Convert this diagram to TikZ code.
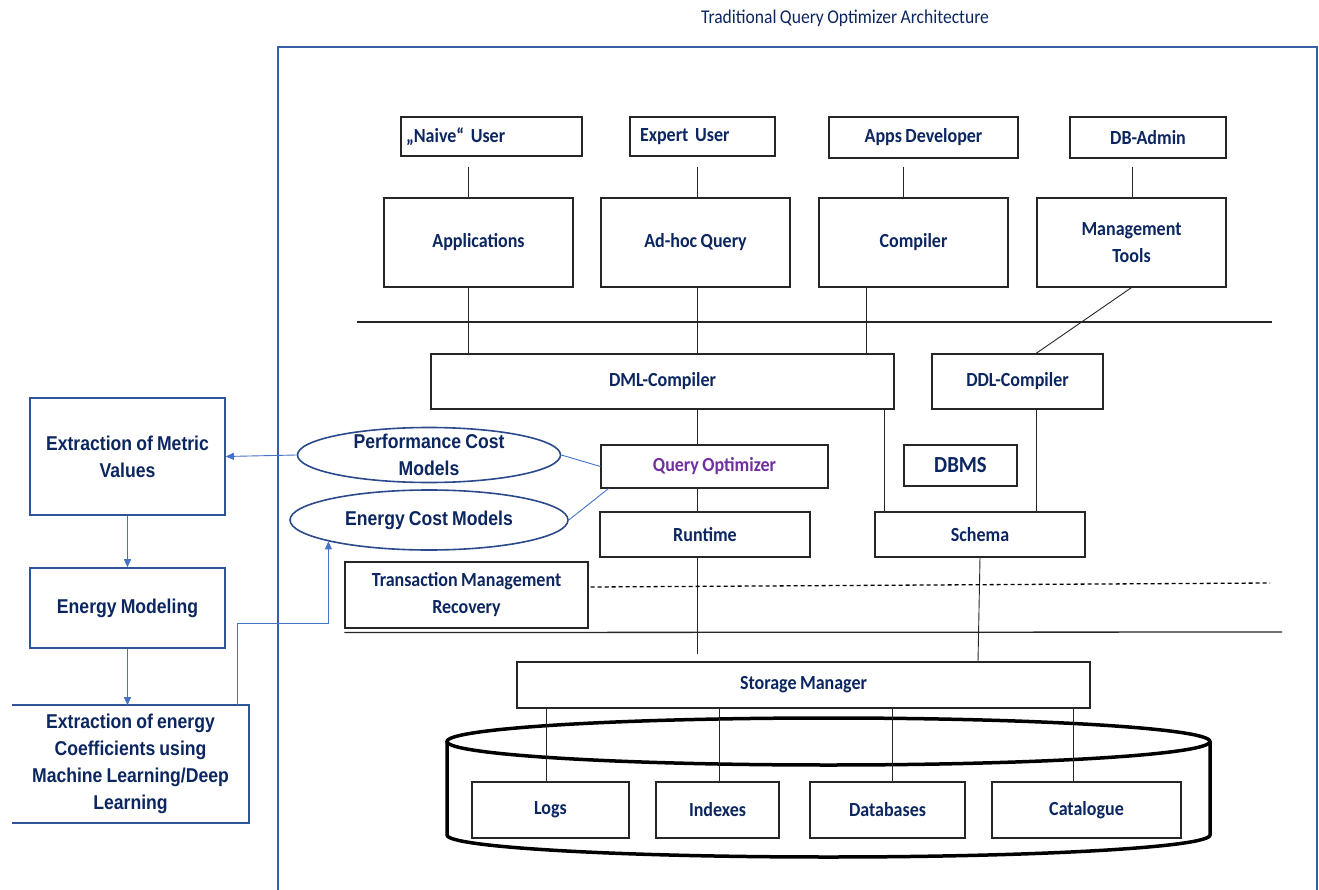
\documentclass[tikz,border=0pt]{standalone}
\usepackage{fontspec}
\setmainfont{Carlito}[FakeStretch=0.9, WordSpace=0.85]
\newfontfamily\arialn{Liberation Sans}[FakeStretch=0.88, WordSpace=0.85]
\usetikzlibrary{shapes.geometric,arrows.meta,calc}
\definecolor{navy}{HTML}{0C2660}
\definecolor{framec}{HTML}{3A5DA8}
\definecolor{lboxc}{HTML}{2F5597}
\definecolor{ellc}{HTML}{2B4A8C}
\definecolor{arrc}{HTML}{4472C4}
\definecolor{qoc}{HTML}{7030A0}
\begin{document}
\begin{tikzpicture}[x=1pt,y=-1pt,
  box/.style={draw=black!85, line width=1.1, fill=white, inner sep=0, align=center, text=navy, font=\bfseries\fontsize{20}{27}\selectfont},
  lbox/.style={draw=lboxc, line width=1.6, fill=white, inner sep=0, align=center, text=navy, font=\arialn\bfseries\fontsize{20}{27}\selectfont},
  ell/.style={ellipse, draw=ellc, line width=1.6, fill=white, inner sep=0},
  ltext/.style={text=navy, align=center, inner sep=0, font=\arialn\bfseries\fontsize{20}{27}\selectfont},
  conn/.style={draw=black!85, line width=0.9},
  blu/.style={draw=arrc, line width=0.9},
  arr/.style={draw=arrc, line width=0.9, -{Triangle[length=8,width=7]}},
  framel/.style={draw=framec, line width=1.6}
]
\useasboundingbox (0,0) rectangle (1319,890);

% title and frame
\node[text=navy, font=\fontsize{19.5}{22}\selectfont] (title) at (845,18) {Traditional Query Optimizer Architecture};
\draw[framel] (278,890) -- (278,47) -- (1317,47) -- (1317,890);

% cylinder
\draw[line width=3.5] (447,741.5) -- (447,835) arc[start angle=180, end angle=0, x radius=381.5, y radius=22] -- (1210,741.5);
\draw[line width=3.5] (828.5,741.5) ellipse[x radius=381.5, y radius=23.5];

% helper coordinates
\coordinate (vA) at (468,0);
\coordinate (vB) at (697,0);
\coordinate (vC) at (903,0);
\coordinate (vD) at (1132,0);
\coordinate (vE) at (866,0);
\coordinate (vF) at (884,0);
\coordinate (vG) at (1036,0);
\coordinate (s1) at (546,0);
\coordinate (s2) at (719,0);
\coordinate (s3) at (892,0);
\coordinate (s4) at (1073,0);
\coordinate (hl1a) at (357,322);
\coordinate (hl1b) at (1272,322);
\coordinate (hl2b) at (1282,632);
\coordinate (dashend) at (1270,583);

% users
\node[box, align=left, text width=171, inner xsep=5, minimum height=39] (naive) at (491.5,136.5) {„Naive“ User};
\node[box, align=left, text width=125, inner xsep=10, minimum height=39] (expert) at (702.5,136.5) {Expert User};
\node[box, minimum width=189, minimum height=41] (appsdev) at (923.5,137.5) {Apps Developer};
\node[box, minimum width=156, minimum height=41] (dbadmin) at (1148,137.5) {DB-Admin};

% tools
\node[box, minimum width=189, minimum height=89] (applications) at (478.5,242.5) {Applications};
\node[box, minimum width=189, minimum height=89] (adhoc) at (695.5,242.5) {Ad-hoc Query};
\node[box, minimum width=189, minimum height=89] (compiler) at (913.5,242.5) {Compiler};
\node[box, minimum width=189, minimum height=89] (mgmt) at (1131.5,242.5) {Management\\Tools};

% compilers
\node[box, minimum width=463, minimum height=55] (dml) at (662.5,381.5) {DML-Compiler};
\node[box, minimum width=171, minimum height=55] (ddl) at (1017.5,381.5) {DDL-Compiler};

\node[box, text=qoc, minimum width=227, minimum height=43] (qo) at (714.5,466.5) {Query Optimizer};
\node[box, font=\bfseries\fontsize{23}{27}\selectfont, minimum width=113, minimum height=41] (dbms) at (960.5,465.5) {DBMS};
\node[box, minimum width=210, minimum height=45] (runtime) at (705,534.5) {Runtime};
\node[box, minimum width=210, minimum height=45] (schema) at (980,534.5) {Schema};
\node[box, minimum width=243, minimum height=66] (tmr) at (466.5,595) {Transaction Management\\Recovery};

\node[box, minimum width=573, minimum height=46] (storage) at (803.5,685) {Storage Manager};
\node[box, minimum width=157, minimum height=56] (logs) at (550.5,810) {Logs};
\node[box, minimum width=123, minimum height=56] (indexes) at (717.5,810) {Indexes};
\node[box, minimum width=155, minimum height=56] (databases) at (887.5,810) {Databases};
\node[box, minimum width=189, minimum height=56] (catalogue) at (1086.5,810) {Catalogue};

% ellipses
\node[ell, minimum width=263, minimum height=55] (perf) at (429,455) {};
\node[ltext] (perftext) at (perf.center) {Performance Cost\\Models};
\node[ell, minimum width=278, minimum height=60] (energy) at (429,520) {};
\node[ltext] (energytext) at (energy.center) {Energy Cost Models};

% left boxes
\node[lbox, minimum width=195, minimum height=117] (metric) at (127.5,456.5) {Extraction of Metric\\Values};
\node[lbox, minimum width=195, minimum height=80] (modeling) at (127.5,608) {Energy Modeling};
\node[lbox, draw=none, minimum width=235, minimum height=116] (coeff) at (130.5,764) {Extraction of energy\\Coefficients using\\Machine Learning/Deep\\Learning};
\draw[draw=lboxc, line width=1.6] (coeff.north west) -- (coeff.north east) -- (coeff.south east) -- (coeff.south west);

% connectors users -> tools
\draw[conn] ($(naive.south -| vA)+(0,10)$) -- (applications.north -| vA);
\draw[conn] ($(expert.south -| vB)+(0,10)$) -- (adhoc.north -| vB);
\draw[conn] ($(appsdev.south -| vC)+(0,8)$) -- (compiler.north -| vC);
\draw[conn] ($(dbadmin.south -| vD)+(0,8)$) -- (mgmt.north -| vD);

% tools -> compilers
\draw[conn, line width=1.2] (hl1a) -- (hl1b);
\draw[conn] (applications.south -| vA) -- (dml.north -| vA);
\draw[conn] (adhoc.south -| vB) -- (dml.north -| vB);
\draw[conn] (compiler.south -| vE) -- (dml.north -| vE);
\draw[conn] (mgmt.south) -- (ddl.north -| vG);

% compilers -> below
\draw[conn] (dml.south -| vB) -- (qo.north -| vB);
\draw[conn] (dml.south -| vF) -- (schema.north -| vF);
\draw[conn] (ddl.south -| vG) -- (schema.north -| vG);
\draw[conn] (qo.south -| vB) -- (runtime.north -| vB);
\draw[conn] (runtime.south -| vB) -- ($(storage.north -| vB)+(0,-7)$);
\draw[conn] (schema.south) -- ($(schema.south |- storage.north)+(-2,0)$);

% separators
\draw[draw=black, dash pattern=on 4pt off 3pt, line width=1.3] ($(tmr.east)+(2,-8)$) -- (dashend);
\draw[conn, line width=1.3] ($(tmr.south west)+(0,4)$) -- (hl2b);

% storage -> files
\draw[conn] (storage.south -| s1) -- (logs.north -| s1);
\draw[conn] (storage.south -| s2) -- (indexes.north -| s2);
\draw[conn] (storage.south -| s3) -- (databases.north -| s3);
\draw[conn] (storage.south -| s4) -- (catalogue.north -| s4);

% blue connectors
\draw[blu] (perf.east) -- (qo.west);
\draw[blu] (energy.east) -- ($(qo.south west)+(8,0)$);
\draw[arr] (perf.west) -- (metric.east);
\draw[arr] (metric.south) -- (modeling.north);
\draw[arr] (modeling.south) -- (coeff.north -| modeling.south);
\draw[arr] ($(coeff.north west)+(225,0)$) -- ++(0,-82) -| (energy.192.5);
\end{tikzpicture}
\end{document}
